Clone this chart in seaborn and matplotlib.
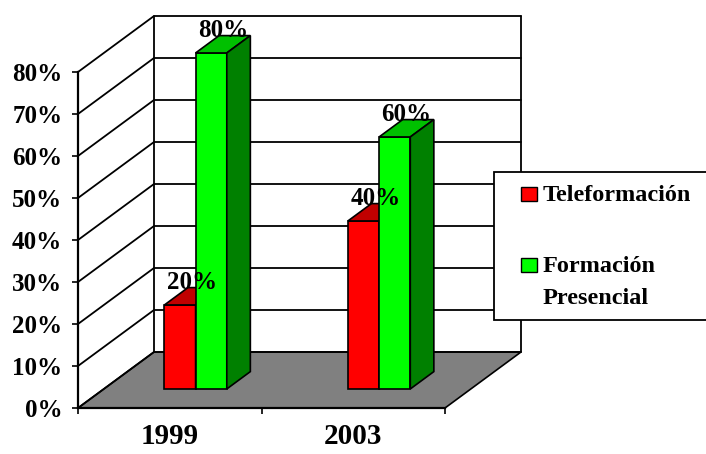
import numpy as np
import pandas as pd
import matplotlib
matplotlib.use("Agg")
import matplotlib.pyplot as plt
import matplotlib.patches as mpatches
import seaborn as sns

# data
years = ["1999", "2003"]
series_names = ["Teleformación", "Formación Presencial"]
teleformacion = [20, 40]
presencial = [80, 60]
y_ticks = [0, 10, 20, 30, 40, 50, 60, 70, 80]
legend_lines = [["Teleformación"], ["Formación", "Presencial"]]

# colours for the front, top and side faces of each series
front_colors = ["#FF0000", "#00FF00"]
top_colors = ["#C00000", "#00C000"]
side_colors = ["#800000", "#008000"]

df = pd.DataFrame({
    "Año": years * 2,
    "Serie": [series_names[0]] * len(years) + [series_names[1]] * len(years),
    "Porcentaje": teleformacion + presencial,
})

sns.set_style("white")
plt.rcParams["font.family"] = ["Liberation Serif", "DejaVu Serif"]
plt.rcParams["font.weight"] = "bold"
for key in ["text.color", "axes.labelcolor", "xtick.color", "ytick.color"]:
    plt.rcParams[key] = "black"

W, H = 706, 454
fig = plt.figure(figsize=(W / 100, H / 100), dpi=100)
fig.patch.set_facecolor("white")

# front plane of the 3d box, in pixels
left_px, right_px, bottom_px, top_px = 78, 445, 408, 72
ax = fig.add_axes([left_px / W, 1 - bottom_px / H,
                   (right_px - left_px) / W, (bottom_px - top_px) / H])
ax.set_facecolor("none")

xmin, xmax = -0.5, len(years) - 0.5
ymax = y_ticks[-1]
# depth of the box in data units (oblique projection, 76px right / 56px up)
dx = 76 * (xmax - xmin) / (right_px - left_px)
dy = 56 * ymax / (bottom_px - top_px)
d_front, d_back = 0.34, 0.65  # bars sit in this slice of the depth
bd = d_back - d_front

sns.barplot(data=df, x="Año", y="Porcentaje", hue="Serie", hue_order=series_names,
            palette=front_colors, saturation=1, width=0.34, errorbar=None,
            legend=False, edgecolor="black", linewidth=1.2, ax=ax)

# floor and walls
ax.fill([xmin, xmax, xmax + dx, xmin + dx], [0, 0, dy, dy], facecolor="#808080",
        edgecolor="black", linewidth=1.2, zorder=0.5, clip_on=False)
for v in y_ticks:
    ax.plot([xmin, xmin + dx, xmax + dx], [v, v + dy, v + dy], color="black",
            linewidth=1.3, zorder=0.6, clip_on=False)
for xb in [xmin + dx, xmax + dx]:
    ax.plot([xb, xb], [dy, ymax + dy], color="black", linewidth=1.3,
            zorder=0.6, clip_on=False)

# push the bars back into the box and give them a top and a side
for i, cont in enumerate(ax.containers):
    for bar in cont:
        x0 = bar.get_x() + d_front * dx
        y0 = d_front * dy
        w = bar.get_width()
        h = bar.get_height()
        bar.set_x(x0)
        bar.set_y(y0)
        bar.set_zorder(2 + i)
        bar.set_clip_on(False)
        ax.fill([x0, x0 + w, x0 + w + bd * dx, x0 + bd * dx],
                [y0 + h, y0 + h, y0 + h + bd * dy, y0 + h + bd * dy],
                facecolor=top_colors[i], edgecolor="black", linewidth=1.2,
                zorder=2 + i, clip_on=False)
        ax.fill([x0 + w, x0 + w + bd * dx, x0 + w + bd * dx, x0 + w],
                [y0, y0 + bd * dy, y0 + h + bd * dy, y0 + h],
                facecolor=side_colors[i], edgecolor="black", linewidth=1.2,
                zorder=2 + i, clip_on=False)
        ax.text(x0 + w / 2 + bd * dx / 2, y0 + h + bd * dy / 2 + 1.8, f"{h:.0f}%",
                ha="center", va="baseline", fontsize=18, fontweight="bold",
                color="black", zorder=6, clip_on=False)

ax.set_xlim(xmin, xmax)
ax.set_ylim(0, ymax)
ax.set_xlabel("")
ax.set_ylabel("")
ax.set_yticks(y_ticks, labels=[f"{v}%" for v in y_ticks])
ax.set_xticks(range(len(years)), labels=years)
ax.set_xticks(np.arange(xmin, xmax + 0.5, 1.0), minor=True)
ax.tick_params(axis="y", left=True, direction="out", length=4.3, width=1.2,
               pad=7, labelsize=18, colors="black")
ax.tick_params(axis="x", which="major", length=0, pad=11, labelsize=21,
               colors="black")
ax.tick_params(axis="x", which="minor", bottom=True, direction="out",
               length=4.3, width=1.2, colors="black")
for lab in ax.get_xticklabels() + ax.get_yticklabels():
    lab.set_fontweight("bold")
for side in ["top", "right"]:
    ax.spines[side].set_visible(False)
for side in ["left", "bottom"]:
    ax.spines[side].set_linewidth(1.6)
    ax.spines[side].set_color("black")

# legend box, drawn by hand so the square sits next to the first line
def px(x, y):
    return x / W, 1 - y / H

fig.add_artist(mpatches.Rectangle(px(494, 320), 230 / W, 148 / H,
                                  transform=fig.transFigure, facecolor="white",
                                  edgecolor="black", linewidth=1.3, zorder=10))
entry_baselines = [201.5, 272.5]
for i, lines in enumerate(legend_lines):
    base = entry_baselines[i]
    fig.add_artist(mpatches.Rectangle(px(521, base - 1), 16 / W, 14 / H,
                                      transform=fig.transFigure,
                                      facecolor=front_colors[i], edgecolor="black",
                                      linewidth=1.0, zorder=11))
    for k, line in enumerate(lines):
        fig.text(*px(543, base + 31.5 * k), line, ha="left", va="baseline",
                 fontsize=17.5, fontweight="bold", color="black", zorder=11)

fig.savefig("out.png", dpi=100)
